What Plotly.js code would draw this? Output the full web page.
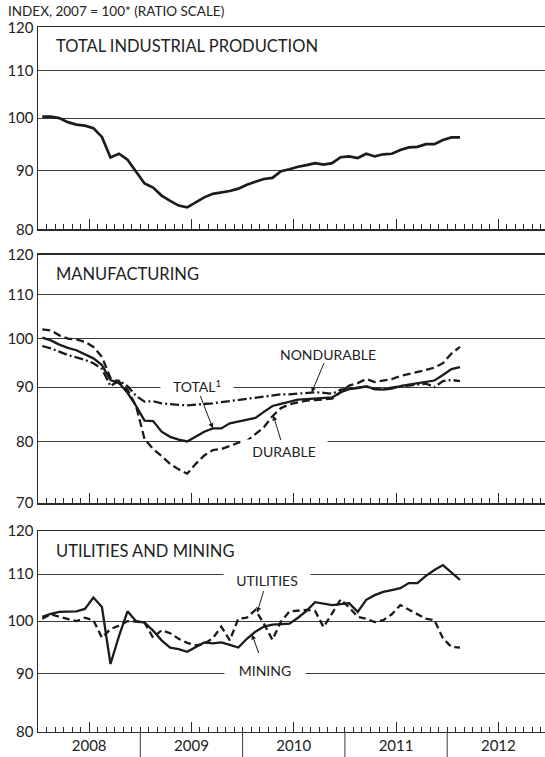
<!DOCTYPE html>
<html><head><meta charset="utf-8">
<script src="https://cdn.plot.ly/plotly-3.0.1.min.js"></script>
<style>html,body{margin:0;padding:0;background:#fff}#chart{width:545px;height:757px}</style>
</head><body><div id="chart"></div>
<script>
// ---- data: monthly index values, Jan 2008 .. Feb 2012 (2007 = 100) ----
const startYear = 2008;
const years = ['2008', '2009', '2010', '2011', '2012'];
const yearBoundaries = [2009, 2010, 2011, 2012];

const totalIP = [100.3, 100.3, 100.0, 99.2, 98.7, 98.5, 98.0, 96.3, 92.4, 93.1, 92.0, 89.8,
  87.7, 87.0, 85.6, 84.7, 83.9, 83.6, 84.5, 85.3, 85.9, 86.1, 86.4, 86.8,
  87.5, 88.0, 88.5, 88.7, 89.9, 90.25, 90.7, 91.0, 91.35, 91.1, 91.35, 92.45,
  92.6, 92.3, 93.1, 92.6, 93.0, 93.1, 93.8, 94.3, 94.4, 94.9, 94.9, 95.7,
  96.2, 96.2];

const mfgTotal = [100.2, 99.6, 98.7, 98.0, 97.5, 96.7, 95.8, 94.4, 91.4, 90.8, 88.9, 86.4,
  83.7, 83.6, 81.7, 80.8, 80.3, 80.0, 80.8, 81.7, 82.3, 82.3, 83.2, 83.5,
  83.9, 84.2, 85.3, 86.4, 86.8, 87.2, 87.6, 87.7, 87.8, 87.9, 88.0, 89.0,
  89.6, 89.8, 90.2, 89.6, 89.5, 89.7, 90.2, 90.5, 90.8, 91.1, 91.3, 92.4,
  93.6, 94.0];

const mfgDurable = [102.0, 101.8, 100.7, 100.0, 99.8, 99.3, 98.2, 96.1, 91.8, 91.1, 89.5, 86.4,
  80.4, 78.7, 77.5, 76.2, 75.3, 74.6, 76.2, 77.6, 78.5, 78.7, 79.2, 79.8,
  80.1, 81.3, 82.5, 84.5, 86.0, 86.7, 87.1, 87.4, 87.5, 87.6, 87.8, 89.0,
  90.3, 90.8, 91.6, 91.0, 91.3, 91.6, 92.2, 92.6, 92.9, 93.4, 93.9, 94.8,
  96.8, 98.2];

const mfgNondurable = [98.4, 97.9, 97.2, 96.5, 96.0, 95.5, 94.8, 93.6, 90.2, 91.3, 90.2, 88.3,
  87.2, 87.3, 86.9, 86.7, 86.6, 86.5, 86.6, 86.7, 86.9, 87.1, 87.3, 87.5,
  87.8, 88.0, 88.2, 88.4, 88.6, 88.6, 88.7, 88.9, 89.0, 88.9, 88.7, 89.5,
  89.7, 89.8, 90.1, 89.6, 89.6, 89.9, 90.2, 90.3, 90.5, 90.7, 90.0, 91.2,
  91.4, 91.2];

const utilities = [100.5, 101.4, 100.9, 100.5, 100.0, 100.7, 100.2, 96.7, 98.4, 99.1, 100.0, 99.9,
  99.7, 96.7, 98.2, 97.6, 96.5, 95.7, 95.2, 95.5, 96.6, 98.9, 96.2, 100.5,
  100.7, 102.3, 99.5, 96.3, 99.9, 102.0, 102.2, 102.3, 102.1, 98.8, 101.6, 104.5,
  102.8, 100.9, 100.5, 99.8, 100.2, 101.4, 103.3, 102.4, 101.4, 100.5, 100.2, 96.6,
  94.9, 94.8];

const mining = [100.9, 101.5, 101.9, 102.0, 102.0, 102.5, 104.9, 102.9, 91.7, 97.0, 102.0, 100.0,
  99.7, 98.1, 96.2, 94.8, 94.5, 94.0, 94.9, 95.8, 95.6, 95.8, 95.3, 94.8,
  96.5, 97.9, 98.9, 99.3, 99.4, 99.5, 100.7, 102.1, 103.9, 103.6, 103.3, 103.5,
  103.7, 101.9, 104.4, 105.4, 106.1, 106.5, 106.9, 108.0, 108.0, 109.6, 110.9, 112.0,
  110.4, 108.7];

const yTicks1 = [80, 90, 100, 110, 120];
const yTicks2 = [70, 80, 90, 100, 110, 120];

// ---- helpers ----
const monthX = i => startYear + (i + 0.5) / 12;
const xs = totalIP.map((_, i) => monthX(i));
function interp(arr, m) {
  const a = Math.max(0, Math.min(arr.length - 1, Math.floor(m)));
  const b = Math.min(arr.length - 1, a + 1);
  const t = m - a;
  return arr[a] * (1 - t) + arr[b] * t;
}
const L = Math.log10;

const INK = '#1b1b1b';
const GRID = '#3c3c3c';
const FONT = 'Lato, "Noto Sans", sans-serif';

function line(y, xa, ya, dash, w) {
  return {x: xs, y: y, xaxis: xa, yaxis: ya, type: 'scatter', mode: 'lines',
    line: {color: INK, width: w, dash: dash}, hoverinfo: 'skip', showlegend: false};
}

const traces = [
  line(totalIP, 'x', 'y', 'solid', 2.7),
  line(mfgNondurable, 'x2', 'y2', '9px,3px,2px,3px', 2.3),
  line(mfgDurable, 'x2', 'y2', '8px,4px', 2.3),
  line(mfgTotal, 'x2', 'y2', 'solid', 2.3),
  line(utilities, 'x3', 'y3', '7px,4px', 2.3),
  line(mining, 'x3', 'y3', 'solid', 2.3)
];

// ---- year boundary lines, up to the highest series at the boundary ----
const panels = [
  {xr: 'x', yr: 'y', bottom: 80, series: [totalIP]},
  {xr: 'x2', yr: 'y2', bottom: 70, series: [mfgTotal, mfgDurable, mfgNondurable]},
  {xr: 'x3', yr: 'y3', bottom: 80, series: [utilities, mining]}
];
const shapes = [];
panels.forEach(p => {
  yearBoundaries.forEach(b => {
    const m = (b - startYear) * 12 - 0.5;
    const top = Math.max(...p.series.map(s => interp(s, m)));
    shapes.push({type: 'line', xref: p.xr, yref: p.yr, x0: b, x1: b,
      y0: L(p.bottom), y1: L(top), layer: 'between', line: {color: GRID, width: 1}});
  });
});
yearBoundaries.forEach(b => {
  shapes.push({type: 'line', xref: 'x3', yref: 'paper', x0: b, x1: b, y0: 0, y1: 0.0337,
    line: {color: GRID, width: 1}});
});

// ---- axes ----
const xRange = [2008, 2012.956];
const xDomain = [38 / 545, 1];
function xax(showLabels) {
  return {domain: xDomain, range: xRange, showgrid: false, zeroline: false,
    showline: true, mirror: true, linecolor: '#2a2a2a', linewidth: 1.5,
    tickmode: 'array', tickvals: years.map(y => +y + 0.5), ticktext: years,
    ticks: 'inside', ticklen: 10, tickwidth: 1, tickcolor: '#2a2a2a',
    showticklabels: showLabels, tickfont: {family: FONT, size: 15, color: '#222'},
    minor: {ticks: 'inside', ticklen: 5, tickwidth: 1, tickcolor: '#2a2a2a',
      tickmode: 'linear', tick0: 2008, dtick: 1 / 12, showgrid: false},
    fixedrange: true};
}
function yax(domain, lo, hi, ticks, anchor) {
  return {domain: domain, type: 'log', range: [L(lo), L(hi)], anchor: anchor,
    tickmode: 'array', tickvals: ticks, ticktext: ticks.map(String),
    showgrid: true, gridcolor: GRID, gridwidth: 1, zeroline: false,
    showline: true, linecolor: '#2a2a2a', linewidth: 1.5, ticks: '',
    tickfont: {family: FONT, size: 15, color: '#222'}, fixedrange: true};
}

// ---- annotations ----
const H = 757;
const py = v => (H - v) / H;
function label(text, xr, yr, series, m, ax, ay, w, h, bg) {
  return {text: text, xref: xr, yref: yr, x: monthX(m), y: L(interp(series, m)),
    ax: ax, ay: ay, showarrow: true, arrowhead: 2, arrowsize: 1, arrowwidth: 1,
    arrowcolor: INK, width: w, height: h, bgcolor: bg ? '#fff' : 'rgba(0,0,0,0)',
    borderpad: 0, font: {family: FONT, size: 14, color: '#222'}};
}
function title(text, yPix) {
  return {text: text, xref: 'paper', yref: 'paper', x: 54 / 545, y: py(yPix),
    xanchor: 'left', yanchor: 'middle', showarrow: false,
    font: {family: FONT, size: 16.5, color: '#222'}};
}
const annotations = [
  {text: 'INDEX, 2007 = 100* (RATIO SCALE)', xref: 'paper', yref: 'paper',
    x: 6 / 545, y: py(11), xanchor: 'left', yanchor: 'middle', showarrow: false,
    font: {family: FONT, size: 13.5, color: '#222'}},
  title('TOTAL INDUSTRIAL PRODUCTION', 46),
  title('MANUFACTURING', 274),
  title('UTILITIES AND MINING', 551),
  label('TOTAL<sup>1</sup>', 'x2', 'y2', mfgTotal, 20, -16, -42, 72, 18, true),
  label('NONDURABLE', 'x2', 'y2', mfgNondurable, 31.6, 16, -38, 108, 16, false),
  label('DURABLE', 'x2', 'y2', mfgDurable, 27.1, 11, 36, 86, 22, true),
  label('UTILITIES', 'x3', 'y3', utilities, 25.2, 10, -33, 86, 22, true),
  label('MINING', 'x3', 'y3', mining, 24.6, 13, 36, 80, 34, true)
];

const layout = {
  width: 545, height: 757, margin: {l: 0, r: 0, t: 0, b: 0},
  paper_bgcolor: '#fff', plot_bgcolor: '#fff', showlegend: false,
  font: {family: FONT, color: '#222'},
  xaxis: Object.assign(xax(false), {anchor: 'y'}),
  xaxis2: Object.assign(xax(false), {anchor: 'y2'}),
  xaxis3: Object.assign(xax(true), {anchor: 'y3'}),
  yaxis: yax([(H - 229.3) / H, (H - 27.3) / H], 80, 120, yTicks1, 'x'),
  yaxis2: yax([(H - 503) / H, (H - 254.5) / H], 70, 120, yTicks2, 'x2'),
  yaxis3: yax([(H - 731.5) / H, (H - 531) / H], 80, 120, yTicks1, 'x3'),
  shapes: shapes,
  annotations: annotations
};

Plotly.newPlot('chart', traces, layout, {displayModeBar: false, staticPlot: true});
</script>
</body></html>
